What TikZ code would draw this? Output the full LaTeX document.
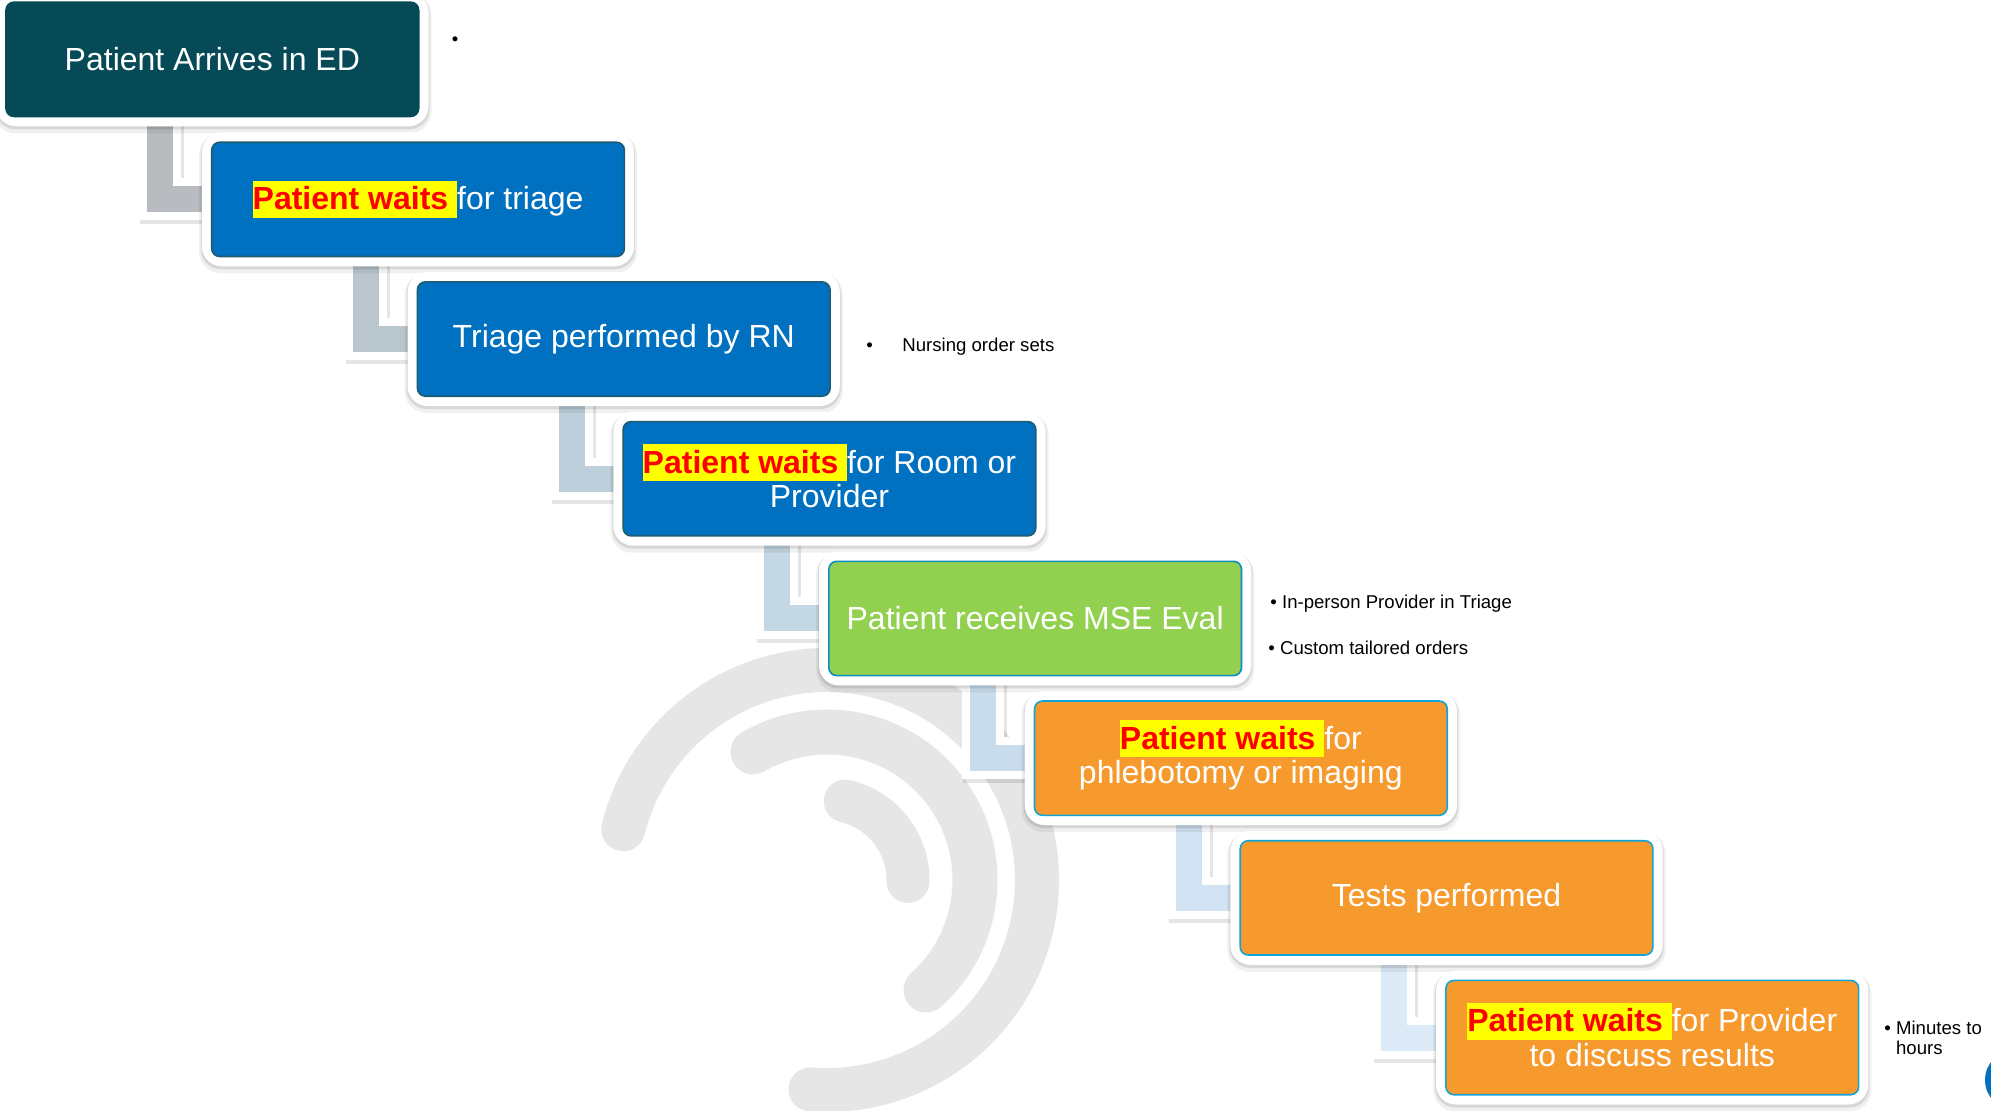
\documentclass[tikz,border=0pt]{standalone}
\usepackage{fontspec}
\setmainfont{Liberation Sans}
\usetikzlibrary{calc}
\pgfdeclarelayer{swirllayer}
\pgfdeclarelayer{links}
\pgfdeclarelayer{frames}
\pgfsetlayers{swirllayer,links,frames,main}

\definecolor{tealbox}{HTML}{054A56}
\definecolor{bluebox}{HTML}{0070C0}
\definecolor{greenbox}{HTML}{92D050}
\definecolor{orangebox}{HTML}{F79A2D}
\definecolor{edgeteal}{HTML}{1F5C70}
\definecolor{edgegreen}{HTML}{0B8FC0}
\definecolor{edgecyan}{HTML}{12A3D9}
\definecolor{swirl}{HTML}{E6E6E6}
\definecolor{hl}{HTML}{FFFF00}
\definecolor{waitred}{HTML}{FF0000}
\definecolor{lnkA}{HTML}{B8BCC0}
\definecolor{lnkB}{HTML}{B9C6CE}
\definecolor{lnkC}{HTML}{BDCFDA}
\definecolor{lnkD}{HTML}{C4D7E4}
\definecolor{lnkE}{HTML}{C9DCEC}
\definecolor{lnkF}{HTML}{D1E2F2}
\definecolor{lnkG}{HTML}{DCE9F7}

\setlength{\fboxsep}{0pt}
% highlighted lead-in used in the waiting steps
\newcommand{\waits}{\colorbox{hl}{\rule[-0.25em]{0pt}{1.15em}\textbf{\color{waitred}Patient waits\ }}}
% same, without affecting the line height (two-line steps)
\newcommand{\waitsflat}{\smash{\waits}}

\begin{document}
\begin{tikzpicture}[
  x=0.5pt, y=-0.5pt,
  stage/.style={rectangle, rounded corners=4pt, minimum width=206.35pt,
    minimum height=57.15pt, inner sep=0pt, text=white, align=center,
    font=\fontsize{16}{17.15}\selectfont, line width=0.8pt},
  note/.style={anchor=west, inner sep=0pt, text=black,
    font=\fontsize{9.3}{10.2}\selectfont},
  linkbar/.style={line width=13pt, line join=miter},
  linkrim/.style={line width=21pt, draw=white, line join=miter},
  linkshade/.style={line width=22pt, draw=black, opacity=0.10, line join=miter,
    transform canvas={shift={(2,3)}}},
  arcband/.style={draw=swirl, line cap=round},
]
\useasboundingbox (0,0) rectangle (1991,1110);

% process steps
\node[stage, fill=tealbox, draw=tealbox] (b1) at (212.35,59.3) {Patient Arrives in ED};
\node[stage, fill=bluebox, draw=edgeteal] (b2) at (418.05,199.35) {\waits for triage};
\node[stage, fill=bluebox, draw=edgeteal] (b3) at (623.75,339.05) {Triage performed by RN};
\node[stage, fill=bluebox, draw=edgeteal] (b4) at (829.45,478.75) {\waitsflat for Room or\\Provider};
\node[stage, fill=greenbox, draw=edgegreen] (b5) at (1035.15,618.45) {Patient receives MSE Eval};
\node[stage, fill=orangebox, draw=edgecyan] (b6) at (1240.85,758.15) {\waitsflat for\\phlebotomy or imaging};
\node[stage, fill=orangebox, draw=edgecyan] (b7) at (1446.55,897.85) {Tests performed};
\node[stage, fill=orangebox, draw=edgecyan] (b8) at (1652.25,1037.55) {\waitsflat for Provider\\to discuss results};

% side notes
\node[note, anchor=center] (dot) at (455,41) {•};
\node[note] (nurse) at (866,346.5) {•\hspace{14.75pt}Nursing order sets};
\node[note] (mseA) at (1270,603.5) {• In-person Provider in Triage};
\node[note] (mseB) at (1268,647.5) {• Custom tailored orders};
\node[note] (mins) at (1884,1040.5) {\begin{tabular}{@{}l@{ }l@{}}•&Minutes to\\&hours\end{tabular}};

% white rims with soft shadow around each step
\begin{pgfonlayer}{frames}
\foreach \n in {b1,b2,b3,b4,b5,b6,b7,b8} {
  \fill[black, opacity=0.06, rounded corners=11pt, transform canvas={shift={(0,4)}}]
    ($(\n.north west)+(-12,-12)$) rectangle ($(\n.south east)+(12,12)$);
  \fill[black, opacity=0.10, rounded corners=10pt, transform canvas={shift={(0,2)}}]
    ($(\n.north west)+(-10,-10)$) rectangle ($(\n.south east)+(10,10)$);
  \fill[white, rounded corners=10pt]
    ($(\n.north west)+(-9,-9)$) rectangle ($(\n.south east)+(9,9)$);
}
\end{pgfonlayer}

% elbow connectors between consecutive steps
\begin{pgfonlayer}{links}
\foreach \a/\b/\c in {b1/b2/lnkA, b2/b3/lnkB, b3/b4/lnkC, b4/b5/lnkD,
                      b5/b6/lnkE, b6/b7/lnkF, b7/b8/lnkG} {
  \draw[linkshade] ($(\a.south west)+(155,0)$) |- ($(\b.west)+(20,0)$);
  \draw[linkrim] ($(\a.south west)+(155,0)$) |- ($(\b.west)+(20,0)$);
  \draw[linkbar, draw=\c] ($(\a.south west)+(155,0)$) |- ($(\b.west)+(20,0)$);
}
\end{pgfonlayer}

% page background and the pale spiral watermark
\begin{pgfonlayer}{swirllayer}
\fill[white] (0,0) rectangle (1991,1110);
\draw[arcband, line width=22pt] (827,880) ++(-166:210) arc[start angle=-166, end angle=94.5, radius=210];
\draw[arcband, line width=22.5pt] (827,880) ++(-120:148) arc[start angle=-120, end angle=48, radius=148];
\draw[arcband, line width=21.5pt] (827,880) ++(-77:81) arc[start angle=-77, end angle=1, radius=81];
\begin{scope}
  \clip (0,0) rectangle (1991,1110);
  \fill[bluebox] (2015,1080) circle[radius=30];
\end{scope}
\end{pgfonlayer}
\end{tikzpicture}
\end{document}
